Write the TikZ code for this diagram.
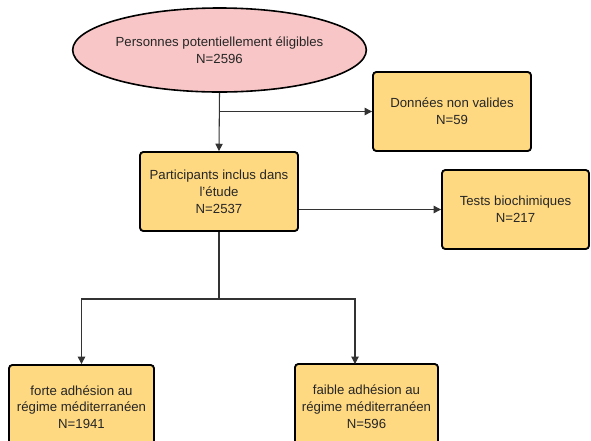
\documentclass[tikz,border=0pt]{standalone}
\usepackage{fontspec}
\setmainfont{Liberation Sans}
\usetikzlibrary{shapes.geometric,arrows.meta}
\definecolor{pinkfill}{HTML}{F8C6C6}
\definecolor{boxfill}{HTML}{FFD982}
\definecolor{linegray}{HTML}{333333}
\begin{document}
\begin{tikzpicture}[x=0.75pt,y=-0.75pt,
  every node/.style={font=\fontsize{9.9}{12.6}\selectfont, align=center, text=black!85},
  stepbox/.style={draw=black, line width=1.4pt, fill=boxfill, rounded corners=2.5pt, inner sep=0pt},
  startell/.style={ellipse, draw=black, line width=1.2pt, fill=pinkfill, inner sep=0pt,
    minimum width=177.75pt, minimum height=63pt},
  arr/.style={draw=linegray, line width=0.8pt, -{Triangle[length=5.5pt,width=5.5pt]}},
  ln/.style={draw=linegray, line width=0.8pt}]
\useasboundingbox (0,0) rectangle (591,440);
\clip (0,0) rectangle (591,440);
\node[startell] (start) at (219.5,50) {Personnes potentiellement éligibles\\N=2596};
\node[stepbox, minimum width=118.5pt, minimum height=59.25pt] (invalid) at (452,111.5) {Données non valides\\N=59};
\node[stepbox, minimum width=118.5pt, minimum height=59.25pt] (incl) at (219,191.5) {Participants inclus dans\\l'étude\\N=2537};
\node[stepbox, minimum width=110.25pt, minimum height=59.25pt] (bio) at (515.5,209.5) {Tests biochimiques\\N=217};
\node[stepbox, minimum width=108.75pt, minimum height=63pt] (high) at (81.5,407) {forte adhésion au\\régime méditerranéen\\N=1941};
\node[stepbox, minimum width=107.25pt, minimum height=63.75pt] (low) at (366.5,406.5) {faible adhésion au\\régime méditerranéen\\N=596};

\coordinate (split1) at (start.south |- invalid.west);
\coordinate (split2) at (219,299);
\coordinate (lowin) at (355,364);

\draw[arr] (start.south) -- (incl.north);
\draw[arr] (split1) -- (invalid.west);
\draw[arr] (incl.east |- bio.west) -- (bio.west);
\draw[ln] (incl.south) -- (split2);
\draw[arr] (split2) -| (high.north);
\draw[arr] (split2) -| (lowin);
\end{tikzpicture}
\end{document}
